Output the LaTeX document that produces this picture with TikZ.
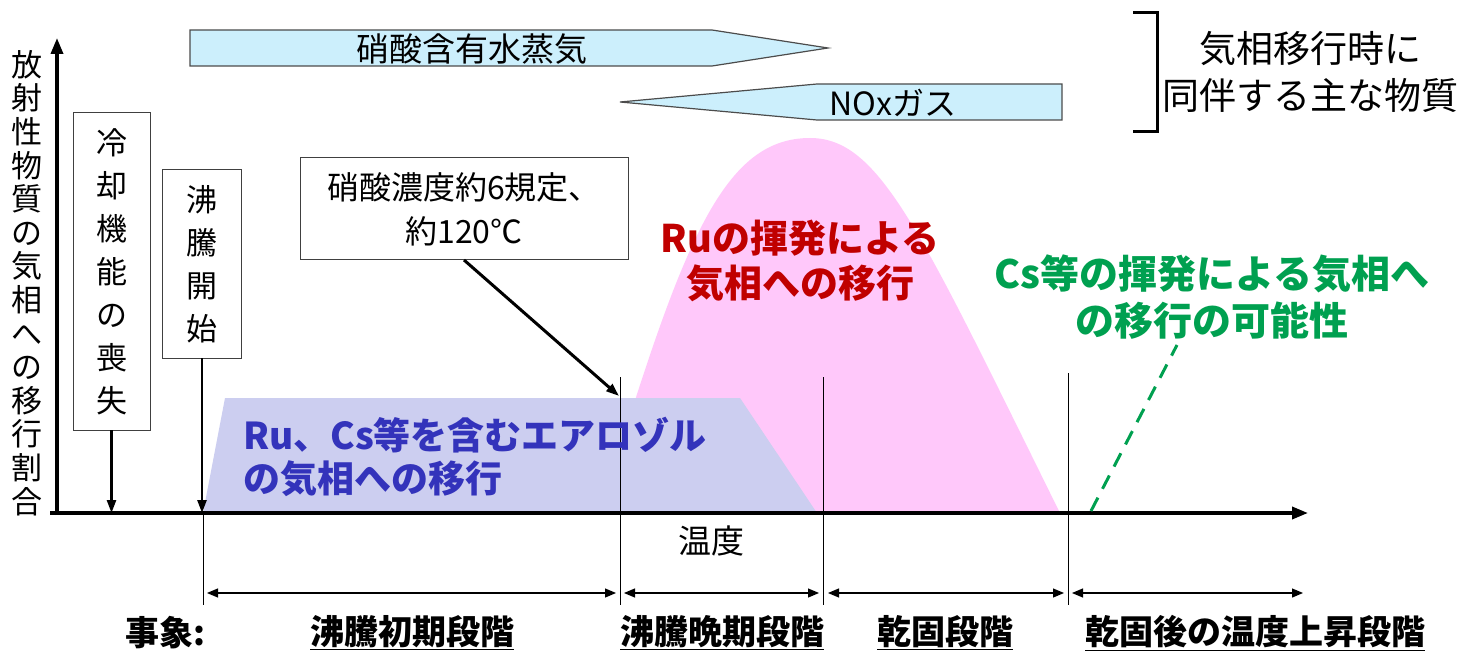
\documentclass[tikz,border=0pt]{standalone}
\usepackage{fontspec}
\setmainfont{Noto Sans CJK JP}
\usepackage{tikz}
\usetikzlibrary{arrows.meta}
\colorlet{vapour}{cyan!20}
\definecolor{volat}{RGB}{255,200,250}
\definecolor{aerosol}{RGB}{204,206,240}
\definecolor{rutext}{RGB}{192,0,0}
\definecolor{cstext}{RGB}{0,160,80}
\definecolor{aerotext}{RGB}{51,51,187}
\newcommand{\jsize}[2]{\fontsize{#1}{#2}\selectfont}
\newcommand{\stagelabel}[1]{\underline{#1}}

\begin{document}
\begin{tikzpicture}[x=1pt,y=-1pt,
	any/.style={inner sep=0pt,outer sep=0pt,align=center},
	vbox/.style={any,draw=black!75,line width=1pt,fill=white,%
		font=\jsize{31}{43}},
	band/.style={draw=black!70,line width=1.2pt,fill=vapour},
	evarrow/.style={-{Triangle[length=13pt,width=9pt]},line width=2.5pt},
	axis/.style={-{Triangle[length=16pt,width=12pt]},line width=3.5pt},
	phase/.style={{Triangle[length=11pt,width=9pt]}-{Triangle[length=11pt,width=9pt]},line width=1.2pt},
	bound/.style={line width=1pt},
	stage/.style={any,font=\bfseries\jsize{34}{40}}
	]
	\useasboundingbox (0,0) rectangle (1467,652);

	\coordinate (O) at (57,513);
	\coordinate (xstart) at (50,513);
	\coordinate (xend) at (1308,513);
	\coordinate (yend) at (57,38);

	% stages
	\fill[volat] (600,513) .. controls (680,250) and (720,138) .. (810,138)
		.. controls (880,138) and (920,230) .. (1060,513) -- cycle;
	\fill[aerosol] (203,513) -- (225,398) -- (740,398) -- (817,513) -- cycle;

	\foreach \name/\x/\top in {b0/203/513,b1/620/377,b2/823/377,b3/1068/373}{
		\coordinate (\name) at (\x,\top);
		\draw[bound] (\name) -- (\x,605);
	}
	\foreach \a/\b in {207/616,624/819,828/1064,1072/1303}
		\draw[phase] (\a,593) -- (\b,593);

	\draw[axis] (xstart) -- (xend);
	\draw[axis] (57,515) -- (yend);

	\node[any,font=\jsize{31}{33.6}] (ylabel) at (27,283)
		{放\\射\\性\\物\\質\\の\\気\\相\\へ\\の\\移\\行\\割\\合};
	\node[any,font=\jsize{33}{40}] (temp) at (711,541) {温度};

	\node[vbox,minimum width=77pt,minimum height=317pt] (cool) at (111.5,271.5)
		{冷\\却\\機\\能\\の\\喪\\失};
	\node[vbox,minimum width=79pt,minimum height=188pt] (boil) at (202,264)
		{沸\\騰\\開\\始};
	\draw[evarrow] (cool.south) -- (cool.south |- O);
	\draw[evarrow] (boil.south) -- (boil.south |- O);

	\node[vbox,minimum width=328pt,minimum height=102pt,font=\jsize{32}{44}] (acid) at (464,209)
		{硝酸濃度約6規定、\\約120℃};
	\coordinate (acidpt) at (619,396);
	\draw[evarrow,line width=3pt] (acid.south) -- (acidpt);

	% accompanying gases
	\draw[band] (190,30) -- (712,30) -- (828,48) -- (712,66) -- (190,66) -- cycle;
	\node[any,font=\jsize{33}{40}] (vap) at (472,49) {硝酸含有水蒸気};
	\draw[band] (1062,84) -- (817,84) -- (620,102) -- (817,120) -- (1062,120) -- cycle;
	\node[any,font=\jsize{32}{40}] (nox) at (893,103) {NOxガス};

	\draw[line width=3pt] (1133,13) -- (1157,13) -- (1157,132) -- (1133,132);
	\node[any,font=\jsize{37}{47}] (gas) at (1310,72) {気相移行時に\\同伴する主な物質};

	\node[any,font=\bfseries\jsize{37}{43},text=aerotext,align=left,anchor=west] (aero) at (243,457)
		{Ru、Cs等を含むエアロゾル\\の気相への移行};
	\node[any,font=\bfseries\jsize{38}{45},text=rutext] (ru) at (800,261)
		{Ruの揮発による\\気相への移行};
	\node[any,font=\bfseries\jsize{39}{47},text=cstext] (cs) at (1212,297)
		{Cs等の揮発による気相へ\\の移行の可能性};
	\coordinate (csfoot) at (1091,511);
	\draw[cstext,line width=3pt,dash pattern=on 15pt off 10pt] (csfoot) -- (1177,345);

	\node[stage] (event) at (165,633) {事象:};
	\node[stage] (s1) at (412,633) {\stagelabel{沸騰初期段階}};
	\node[stage] (s2) at (722,633) {\stagelabel{沸騰晩期段階}};
	\node[stage] (s3) at (945,633) {\stagelabel{乾固段階}};
	\node[stage] (s4) at (1255,633) {\stagelabel{乾固後の温度上昇段階}};
\end{tikzpicture}
\end{document}
